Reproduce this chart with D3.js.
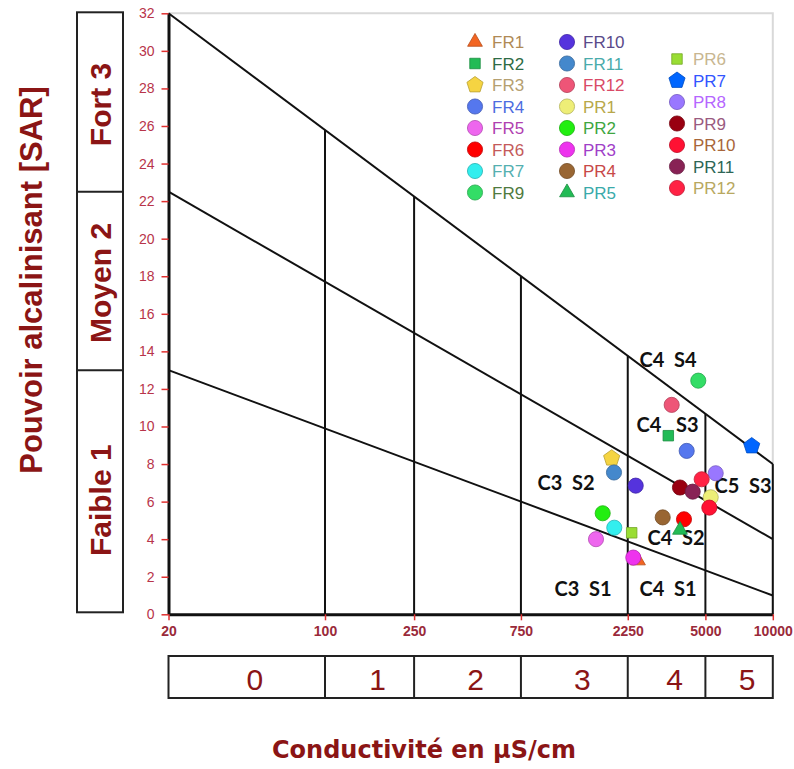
<!DOCTYPE html>
<html><head><meta charset="utf-8">
<script src="https://cdn.jsdelivr.net/npm/d3@7"></script>
<style>body{margin:0;background:#fff}svg{display:block}</style>
</head><body>
<svg id="chart" width="794" height="769"></svg>
<script>
// ---------- data ----------
const categories = ["FR1","FR2","FR3","FR4","FR5","FR6","FR7","FR9",
  "FR10","FR11","FR12","PR1","PR2","PR3","PR4","PR5",
  "PR6","PR7","PR8","PR9","PR10","PR11","PR12"];
const conductivity = [2500,3414,1907,4125,1623,4012,1959,4647,
  2442,1953,3535,5280,1739,2382,3223,3850,
  2343,8050,5559,3850,5206,4387,4812];
const sar = [2.86,9.51,8.31,8.70,4.00,5.06,4.61,12.44,
  6.85,7.55,11.15,6.23,5.38,3.02,5.16,4.49,
  4.34,8.96,7.51,6.75,5.68,6.53,7.19];
const shapes = ["triangle","square","pentagon","circle","circle","circle","circle","circle",
  "circle","circle","circle","circle","circle","circle","circle","triangle",
  "square","pentagon","circle","circle","circle","circle","circle"];
const fillColors = ["#f26522","#22bb55","#f5d442","#5577ee","#ee66ee","#ff0000","#33eeee","#33dd66",
  "#5533dd","#4488cc","#ee5577","#eeee77","#22ee11","#ee33ee","#996633","#22bb55",
  "#99dd33","#0066ff","#9977ff","#990011","#ff1133","#882255","#ff2244"];
const labelColors = ["#b08a55","#2e6b45","#b5a070","#4d6ce0","#b040b0","#c45a5a","#55b0b0","#4f7a40",
  "#5a4a8a","#4aabab","#d94a66","#b8a84a","#3fa63f","#a040c8","#c84848","#3aaaaa",
  "#c8b690","#3355ff","#b566ff","#9a5a80","#a8663a","#2e6655","#b8a860"];
const legendColumnSizes = [8,8,7];

const xTicks = [20,100,250,750,2250,5000,10000];
const yTicks = [0,2,4,6,8,10,12,14,16,18,20,22,24,26,28,30,32];
const lineStartSAR = [32,22.5,13];   // at EC = 20
const lineEndSAR = [8,4,1];          // at EC = 10000
const salinityClasses = ["0","1","2","3","4","5"];
const sarClassNames = ["Faible 1","Moyen 2","Fort 3"];
const sarClassLimits = [0,13,22.5,32];
const zoneLabels = ["C4  S4","C4   S3","C3  S2","C5  S3","C4  S2","C3  S1","C4  S1"];
const zoneLabelEC = [3403,3386,1192,7362,3695,1420,3403];
const zoneLabelSAR = [13.17,9.72,6.62,6.47,3.69,0.97,0.97];

(function(){
// ---------- layout ----------
const svg = d3.select("#chart");
const pL = 168.5, pR = 772.8, pT = 13.3, pB = 614.3;
const x = d3.scaleLog().domain([20,10000]).range([pL,pR]);
const y = d3.scaleLinear().domain([0,32]).range([pB,pT]);
const dark = "#8b1515";
const lineAt = (i, ec) => {
  const t = (Math.log10(ec) - Math.log10(20)) / (Math.log10(10000) - Math.log10(20));
  return lineStartSAR[i] + (lineEndSAR[i] - lineStartSAR[i]) * t;
};

// frame
svg.append("path")
  .attr("d", `M${pL},${pT}H${pR}V${pB}`)
  .attr("fill","none").attr("stroke","#d9d9d9").attr("stroke-width",2);

// vertical class lines
xTicks.slice(1).forEach(v => {
  svg.append("line").attr("x1",x(v)).attr("x2",x(v))
    .attr("y1",y(lineAt(0,v))).attr("y2",y(0))
    .attr("stroke","#111").attr("stroke-width",2);
});
// diagonal lines
lineStartSAR.forEach((s,i) => {
  svg.append("line").attr("x1",x(20)).attr("y1",y(s))
    .attr("x2",x(10000)).attr("y2",y(lineEndSAR[i]))
    .attr("stroke","#111").attr("stroke-width",2);
});

// axes
const yAxis = svg.append("g").attr("transform",`translate(${pL},0)`)
  .call(d3.axisLeft(y).tickValues(yTicks).tickSize(7).tickPadding(7).tickSizeOuter(0));
yAxis.select(".domain").attr("stroke","#111").attr("stroke-width",3);
yAxis.selectAll(".tick line").attr("stroke","#e03030").attr("stroke-width",1.5);
yAxis.selectAll(".tick text").attr("fill","#b8344a")
  .style("font-family","'Liberation Sans',Arial,sans-serif").style("font-size","14px");

const xAxis = svg.append("g").attr("transform",`translate(0,${pB})`)
  .call(d3.axisBottom(x).tickValues(xTicks).tickFormat(d3.format("d")).tickSize(6).tickPadding(6).tickSizeOuter(0));
xAxis.select(".domain").attr("stroke","#111").attr("stroke-width",3);
xAxis.selectAll(".tick line").attr("stroke","#e03030").attr("stroke-width",1.5);
xAxis.selectAll(".tick text").attr("fill","#9a2a3a")
  .style("font-family","'Liberation Sans',Arial,sans-serif").style("font-size","14px").style("font-weight","bold");

// zone labels
zoneLabels.forEach((t,i) => {
  svg.append("text").attr("x",x(zoneLabelEC[i])).attr("y",y(zoneLabelSAR[i]))
    .attr("text-anchor","middle")
    .style("white-space","pre")
    .style("font-family","Lato,'Open Sans',sans-serif").style("font-weight","bold")
    .style("font-size","20px").attr("fill","#111").text(t);
});

// symbols
function pentagonPath(r){
  const pts = d3.range(5).map(k => {
    const a = -Math.PI/2 + k*2*Math.PI/5;
    return [r*Math.cos(a), r*Math.sin(a)];
  });
  return "M" + pts.map(p => p.join(",")).join("L") + "Z";
}
function shapePath(s){
  if (s === "pentagon") return pentagonPath(8.5);
  if (s === "triangle") return d3.symbol(d3.symbolTriangle, 95)();
  if (s === "square") return d3.symbol(d3.symbolSquare, 110)();
  return d3.symbol(d3.symbolCircle, 180)();
}

// points
const pts = svg.append("g");
categories.forEach((c,i) => {
  pts.append("path").attr("d",shapePath(shapes[i]))
    .attr("transform",`translate(${x(conductivity[i])},${y(sar[i])})`)
    .attr("fill",fillColors[i])
    .attr("stroke",d3.color(fillColors[i]).darker(0.8)).attr("stroke-width",0.8);
});

// legend
const colMarkerX = [475,567,677], colTextX = [492,583,693], colStartY = [42,42,59], rowStep = 21.5;
let idx = 0;
legendColumnSizes.forEach((n,col) => {
  for (let r = 0; r < n; r++, idx++) {
    const cy = colStartY[col] + r*rowStep;
    svg.append("path").attr("d",shapePath(shapes[idx]))
      .attr("transform",`translate(${colMarkerX[col]},${cy})`)
      .attr("fill",fillColors[idx])
      .attr("stroke",d3.color(fillColors[idx]).darker(0.8)).attr("stroke-width",0.8);
    svg.append("text").attr("x",colTextX[col]).attr("y",cy+6)
      .style("font-family","'Liberation Sans',Arial,sans-serif").style("font-size","17px")
      .attr("fill",labelColors[idx]).text(categories[idx]);
  }
});

// SAR class boxes
const boxL = 77, boxR = 123;
svg.append("rect").attr("x",boxL).attr("y",y(32)-1).attr("width",boxR-boxL).attr("height",y(0)-y(32)-1)
  .attr("fill","none").attr("stroke","#222").attr("stroke-width",2);
sarClassLimits.slice(1,3).forEach(v => {
  svg.append("line").attr("x1",boxL).attr("x2",boxR).attr("y1",y(v)).attr("y2",y(v))
    .attr("stroke","#222").attr("stroke-width",2);
});
sarClassNames.forEach((t,i) => {
  const cy = (y(sarClassLimits[i]) + y(sarClassLimits[i+1]))/2 + (i===0 ? 8 : 2);
  svg.append("text").attr("transform",`translate(111,${cy}) rotate(-90)`)
    .attr("text-anchor","middle")
    .style("font-family","'Liberation Sans',Arial,sans-serif").style("font-weight","bold")
    .style("font-size","30px").attr("fill",dark).text(t);
});

// y title
svg.append("text").attr("transform","translate(42,280) rotate(-90)")
  .attr("text-anchor","middle")
  .style("font-family","'Liberation Sans',Arial,sans-serif").style("font-weight","bold")
  .style("font-size","31px").attr("fill",dark).text("Pouvoir alcalinisant [SAR]");

// salinity class boxes
const bTop = 656, bBot = 698;
svg.append("rect").attr("x",x(20)).attr("y",bTop).attr("width",x(10000)-x(20)).attr("height",bBot-bTop)
  .attr("fill","none").attr("stroke","#222").attr("stroke-width",2);
xTicks.slice(1,-1).forEach(v => {
  svg.append("line").attr("x1",x(v)).attr("x2",x(v)).attr("y1",bTop).attr("y2",bBot)
    .attr("stroke","#222").attr("stroke-width",2);
});
salinityClasses.forEach((t,i) => {
  const cx = (x(xTicks[i]) + x(xTicks[i+1]))/2 + 8;
  svg.append("text").attr("x",cx).attr("y",690).attr("text-anchor","middle")
    .style("font-family","'Liberation Sans',Arial,sans-serif")
    .style("font-size","30px").attr("fill",dark).text(t);
});

// x title
svg.append("text").attr("x",424).attr("y",758).attr("text-anchor","middle")
  .style("font-family","'DejaVu Sans',Verdana,sans-serif").style("font-weight","bold")
  .style("font-size","24px").attr("fill",dark).text("Conductivité en µS/cm");
})();
</script>
</body></html>
